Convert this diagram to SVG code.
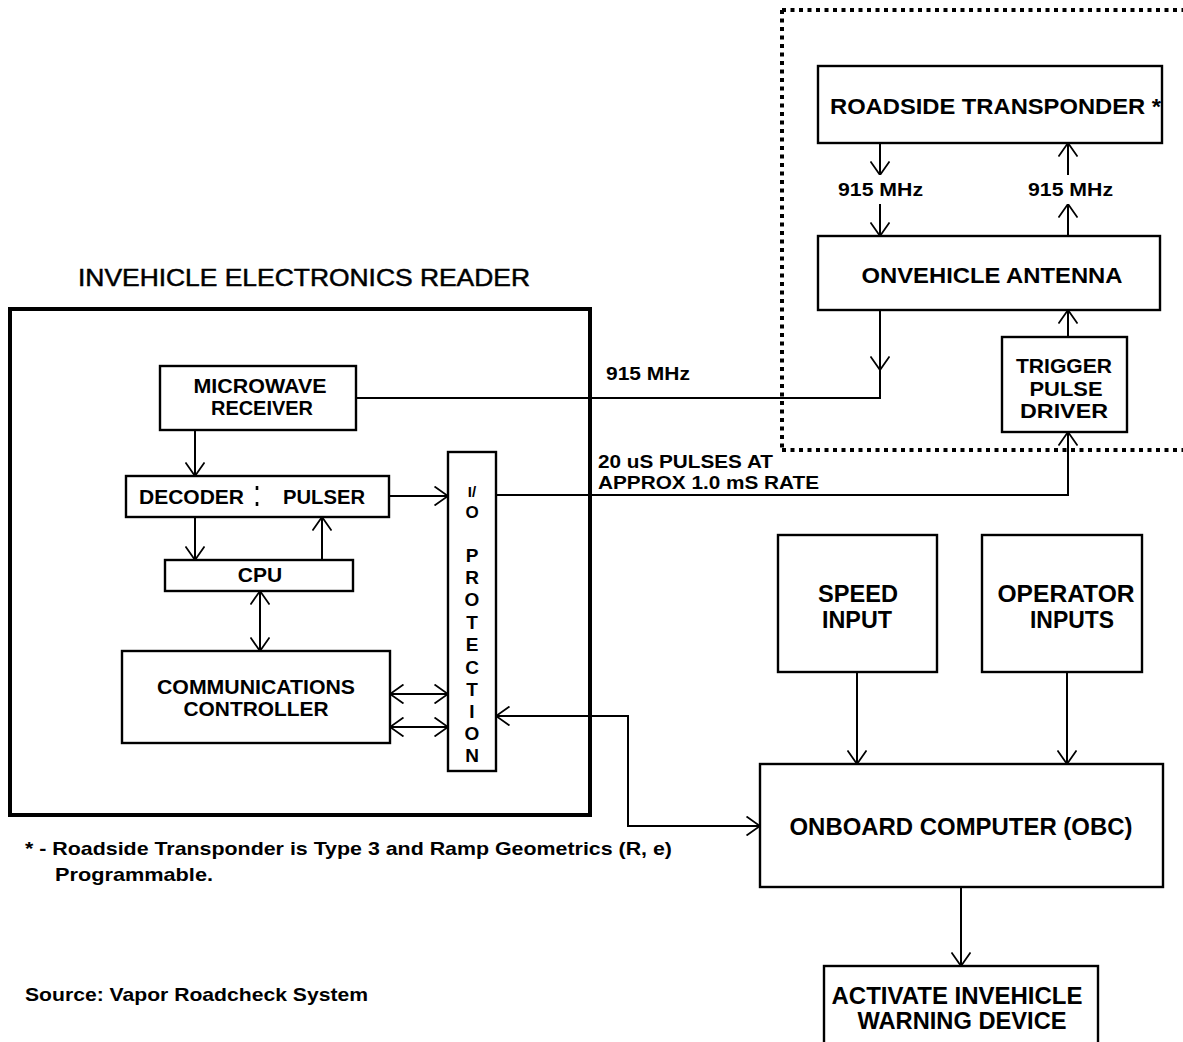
<svg xmlns="http://www.w3.org/2000/svg" width="1183" height="1042" viewBox="0 0 1183 1042">
<defs>
<style>
.box{fill:none;stroke:#000;stroke-width:2.4}
.ln{fill:none;stroke:#000;stroke-width:2}
.t{font-family:"Liberation Sans",Arial,sans-serif;font-weight:bold;fill:#000;text-anchor:middle}
.tl{font-family:"Liberation Sans",Arial,sans-serif;font-weight:bold;fill:#000}
.dot{fill:none;stroke:#000;stroke-width:4;stroke-dasharray:4 4.5}
</style>
<marker id="ah" viewBox="0 0 14 20" refX="14" refY="10" markerWidth="14" markerHeight="20" markerUnits="userSpaceOnUse" orient="auto-start-reverse">
<path d="M0.5,0.5 L14,10 L0.5,19.5" fill="none" stroke="#000" stroke-width="1.8"/>
</marker>
</defs>
<rect width="1183" height="1042" fill="#fff"/>

<text x="78" y="286" font-family="Liberation Sans, Arial, sans-serif" font-size="24" fill="#000" stroke="#000" stroke-width="0.5" textLength="452" lengthAdjust="spacingAndGlyphs">INVEHICLE ELECTRONICS READER</text>

<g id="dotted-region">
<path class="dot" d="M782,10 H1183 M782,10 V450 M782,450 H1183"/>
</g>

<g id="reader">
<rect x="10" y="309" width="580" height="506" fill="none" stroke="#000" stroke-width="4"/>
</g>

<g id="microwave-receiver">
<rect class="box" x="160" y="366" width="196" height="64"/>
<text class="t" x="260" y="393" font-size="21" textLength="133" lengthAdjust="spacingAndGlyphs">MICROWAVE</text>
<text class="t" x="262" y="415" font-size="21" textLength="102" lengthAdjust="spacingAndGlyphs">RECEIVER</text>
</g>

<g id="decoder-pulser">
<rect class="box" x="126" y="476" width="263" height="41"/>
<text class="tl" x="139" y="504" font-size="21" textLength="105" lengthAdjust="spacingAndGlyphs">DECODER</text>
<path d="M257,486 V490 M257,502 V506" stroke="#000" stroke-width="2.6"/>
<text class="tl" x="283" y="504" font-size="21" textLength="82" lengthAdjust="spacingAndGlyphs">PULSER</text>
</g>

<g id="cpu">
<rect class="box" x="165" y="560" width="188" height="31"/>
<text class="t" x="260" y="582" font-size="21">CPU</text>
</g>

<g id="comms-controller">
<rect class="box" x="122" y="651" width="268" height="92"/>
<text class="t" x="256" y="694" font-size="21" textLength="198" lengthAdjust="spacingAndGlyphs">COMMUNICATIONS</text>
<text class="t" x="256" y="716" font-size="21" textLength="145" lengthAdjust="spacingAndGlyphs">CONTROLLER</text>
</g>

<g id="io-protection">
<rect class="box" x="448" y="452" width="48" height="319"/>
<g class="t">
<text x="472" y="497" font-size="15">I/</text>
<text x="472" y="518" font-size="17">O</text>
</g>
<g class="t" font-size="19">
<text x="472" y="562">P</text>
<text x="472" y="584">R</text>
<text x="472" y="606">O</text>
<text x="472" y="629">T</text>
<text x="472" y="651">E</text>
<text x="472" y="674">C</text>
<text x="472" y="696">T</text>
<text x="472" y="718">I</text>
<text x="472" y="740">O</text>
<text x="472" y="762">N</text>
</g>
</g>

<g id="roadside-transponder">
<rect class="box" x="818" y="66" width="344" height="77"/>
<text class="tl" x="830" y="114" font-size="22" textLength="331" lengthAdjust="spacingAndGlyphs">ROADSIDE TRANSPONDER *</text>
</g>

<g id="onvehicle-antenna">
<rect class="box" x="818" y="236" width="342" height="74"/>
<text class="t" x="992" y="283" font-size="22" textLength="261" lengthAdjust="spacingAndGlyphs">ONVEHICLE ANTENNA</text>
</g>

<g id="trigger-pulse-driver">
<rect class="box" x="1002" y="337" width="125" height="95"/>
<text class="t" x="1064" y="373" font-size="21" textLength="96" lengthAdjust="spacingAndGlyphs">TRIGGER</text>
<text class="t" x="1066" y="396" font-size="21" textLength="73" lengthAdjust="spacingAndGlyphs">PULSE</text>
<text class="t" x="1064" y="418" font-size="21" textLength="88" lengthAdjust="spacingAndGlyphs">DRIVER</text>
</g>

<g id="speed-input">
<rect class="box" x="778" y="535" width="159" height="137"/>
<text class="t" x="858" y="602" font-size="23" textLength="80" lengthAdjust="spacingAndGlyphs">SPEED</text>
<text class="t" x="857" y="628" font-size="23" textLength="70" lengthAdjust="spacingAndGlyphs">INPUT</text>
</g>

<g id="operator-inputs">
<rect class="box" x="982" y="535" width="160" height="137"/>
<text class="t" x="1066" y="602" font-size="23" textLength="137" lengthAdjust="spacingAndGlyphs">OPERATOR</text>
<text class="t" x="1072" y="628" font-size="23" textLength="84" lengthAdjust="spacingAndGlyphs">INPUTS</text>
</g>

<g id="obc">
<rect class="box" x="760" y="764" width="403" height="123"/>
<text class="t" x="961" y="835" font-size="23" textLength="343" lengthAdjust="spacingAndGlyphs">ONBOARD COMPUTER (OBC)</text>
</g>

<g id="warning-device">
<rect class="box" x="824" y="966" width="274" height="90"/>
<text class="t" x="957" y="1004" font-size="23" textLength="251" lengthAdjust="spacingAndGlyphs">ACTIVATE INVEHICLE</text>
<text class="t" x="962" y="1029" font-size="23" textLength="209" lengthAdjust="spacingAndGlyphs">WARNING DEVICE</text>
</g>

<g id="connectors">
<path class="ln" d="M880,310 V370" marker-end="url(#ah)"/>
<path class="ln" d="M880,370 V398 H356"/>
<path class="ln" d="M195,430 V476" marker-end="url(#ah)"/>
<path class="ln" d="M389,496 H448" marker-end="url(#ah)"/>
<path class="ln" d="M195,517 V560" marker-end="url(#ah)"/>
<path class="ln" d="M322,560 V517" marker-end="url(#ah)"/>
<path class="ln" d="M260,591 V651" marker-start="url(#ah)" marker-end="url(#ah)"/>
<path class="ln" d="M390,694 H448" marker-start="url(#ah)" marker-end="url(#ah)"/>
<path class="ln" d="M390,727 H448" marker-start="url(#ah)" marker-end="url(#ah)"/>
<path class="ln" d="M496,495 H1068 V432" marker-end="url(#ah)"/>
<path class="ln" d="M1068,337 V310" marker-end="url(#ah)"/>
<path class="ln" d="M496,716 H628 V826 H760" marker-start="url(#ah)" marker-end="url(#ah)"/>
<path class="ln" d="M880,143 V175" marker-end="url(#ah)"/>
<path class="ln" d="M880,204 V236" marker-end="url(#ah)"/>
<path class="ln" d="M1068,175 V143" marker-end="url(#ah)"/>
<path class="ln" d="M1068,236 V204" marker-end="url(#ah)"/>
<path class="ln" d="M857,672 V764" marker-end="url(#ah)"/>
<path class="ln" d="M1067,672 V764" marker-end="url(#ah)"/>
<path class="ln" d="M961,887 V966" marker-end="url(#ah)"/>
</g>

<g id="labels">
<text class="tl" x="838" y="196" font-size="19" textLength="85" lengthAdjust="spacingAndGlyphs">915 MHz</text>
<text class="tl" x="1028" y="196" font-size="19" textLength="85" lengthAdjust="spacingAndGlyphs">915 MHz</text>
<text class="tl" x="606" y="380" font-size="19" textLength="84" lengthAdjust="spacingAndGlyphs">915 MHz</text>
<text class="tl" x="598" y="468" font-size="19" textLength="175" lengthAdjust="spacingAndGlyphs">20 uS PULSES AT</text>
<text class="tl" x="598" y="489" font-size="19" textLength="221" lengthAdjust="spacingAndGlyphs">APPROX 1.0 mS RATE</text>
<text class="tl" x="25" y="855" font-size="19" textLength="647" lengthAdjust="spacingAndGlyphs">* - Roadside Transponder is Type 3 and Ramp Geometrics (R, e)</text>
<text class="tl" x="55" y="881" font-size="19" textLength="158" lengthAdjust="spacingAndGlyphs">Programmable.</text>
<text class="tl" x="25" y="1001" font-size="19" textLength="343" lengthAdjust="spacingAndGlyphs">Source: Vapor Roadcheck System</text>
</g>
</svg>
